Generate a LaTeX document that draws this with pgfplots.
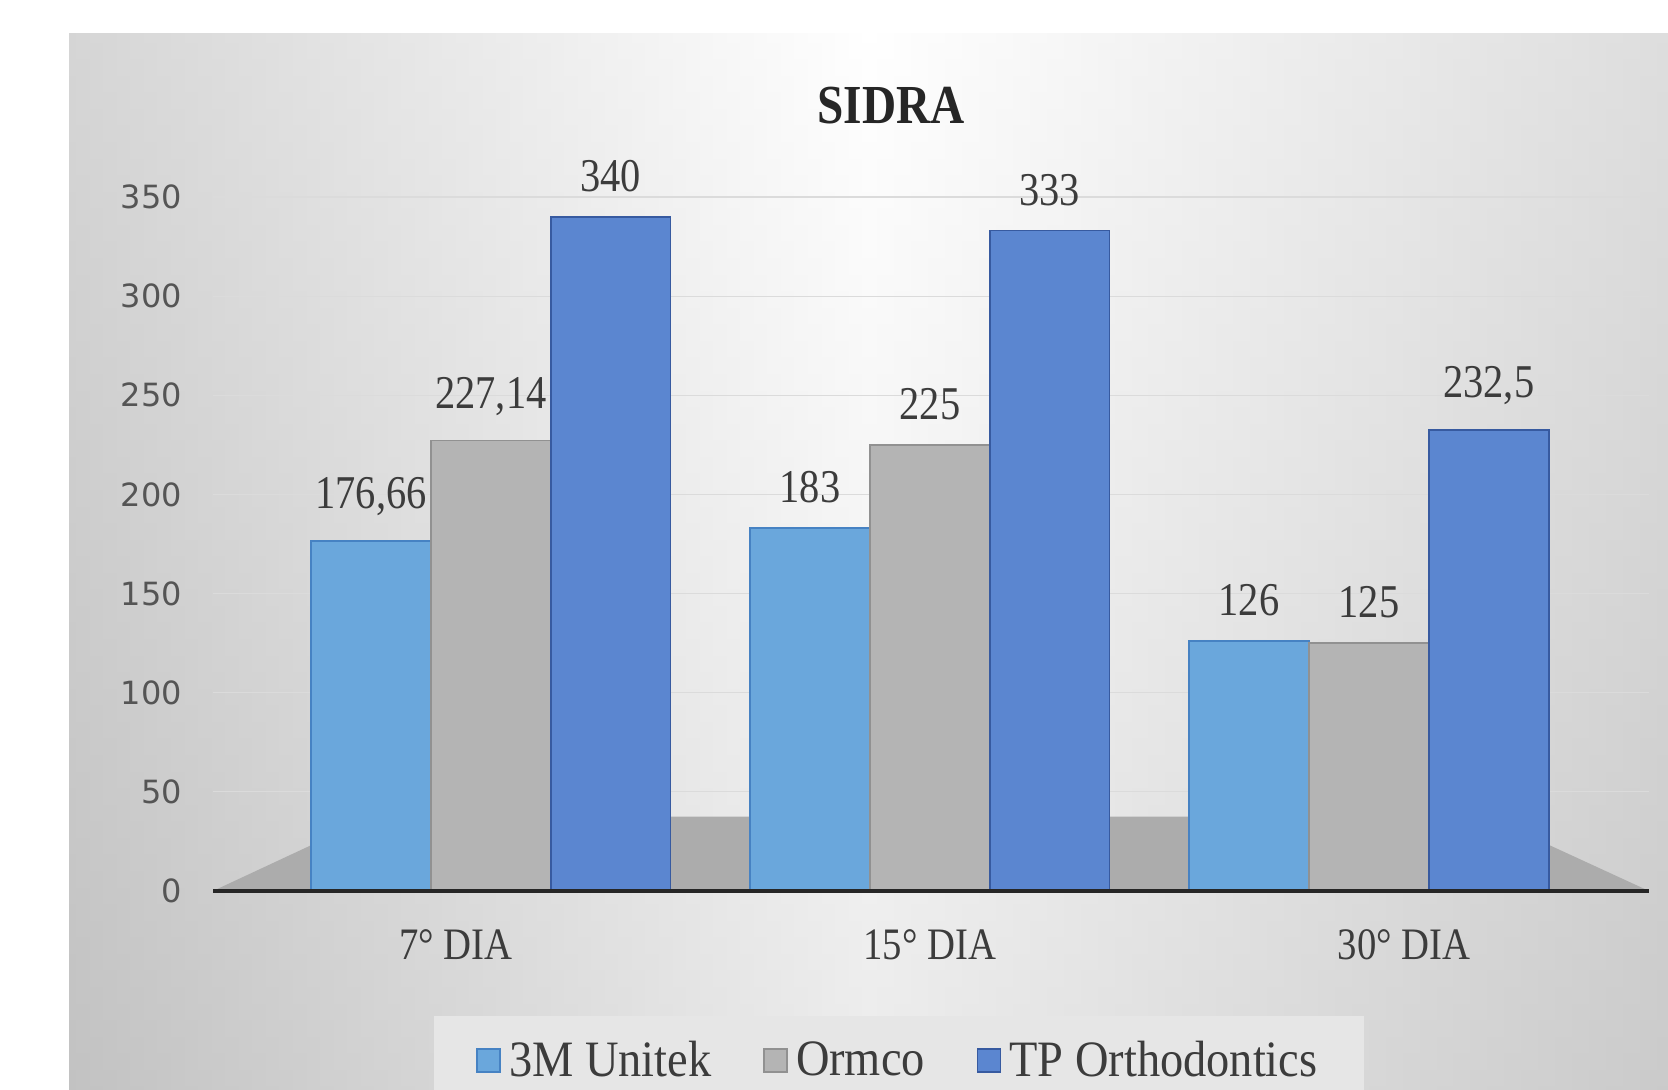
\documentclass[border=0pt]{standalone}
\usepackage{pgfplots}
\pgfplotsset{compat=1.18}
\usepackage{fontspec}
\setmainfont{Liberation Serif}
\newfontfamily\cserif{Liberation Serif}[FakeStretch=0.86]
\newfontfamily\lserif{Liberation Serif}[FakeStretch=0.91]
\newfontfamily\tickfont{DejaVu Sans}
\definecolor{bgedge}{RGB}{196,196,196}
\definecolor{cA}{RGB}{106,167,220}
\definecolor{cAd}{RGB}{70,130,195}
\definecolor{cB}{RGB}{180,180,180}
\definecolor{cBd}{RGB}{145,145,145}
\definecolor{cC}{RGB}{91,134,208}
\definecolor{cCd}{RGB}{55,90,160}
\definecolor{floorc}{RGB}{172,172,172}
\definecolor{txt}{RGB}{60,60,60}
\definecolor{ticktxt}{RGB}{85,85,85}
\definecolor{legendbg}{RGB}{230,230,230}
\begin{document}
\begin{tikzpicture}
\path[use as bounding box] (0,0) rectangle (834pt,545pt);
\fill[white] (0,0) rectangle (834pt,545pt);
\shade[left color=bgedge, right color=bgedge!80!white, middle color=white] (34.5pt,0) rectangle (834pt,528pt);
\shade[top color=white, bottom color=black!25, opacity=0.3] (34.5pt,0) rectangle (834pt,528pt);
\node[font=\cserif\bfseries\fontsize{27.5}{30}\selectfont, text=black!85] at (445.5pt,492pt) {SIDRA};
\begin{axis}[
  at={(106.5pt,99.5pt)}, anchor=south west,
  scale only axis, width=718pt, height=347pt,
  xmin=-0.633, xmax=2.638, ymin=0, ymax=350,
  ybar=0pt, bar width=0.273,
  ytick={0,50,...,350},
  xtick={-0.08,1,2.08}, xticklabels={7° DIA,15° DIA,30° DIA},
  major tick length=0pt,
  axis line style={draw=none},
  ymajorgrids, grid style={white!86!black, line width=0.6pt},
  yticklabel style={font=\tickfont\fontsize{16}{18}\selectfont, text=ticktxt, xshift=-12pt},
  xticklabel style={font=\cserif\fontsize{22.5}{24}\selectfont, text=txt, yshift=-16pt},
  /pgf/number format/assume math mode=true,
  /pgf/number format/use comma,
  nodes near coords,
  every node near coord/.append style={font=\cserif\fontsize{23.5}{25}\selectfont, text=txt, anchor=south, inner sep=0pt, yshift=12pt},
  clip=false,
  legend columns=3,
  legend style={at={(0.4777,-0.180)}, anchor=north, draw=none, fill=legendbg,
    font=\lserif\fontsize{25.5}{27}\selectfont, text=txt,
    inner xsep=21pt, inner ysep=10.5pt, nodes={inner xsep=2pt},
    /tikz/every even column/.append style={column sep=24pt}},
  legend image code/.code={\draw[#1] (0pt,-5.75pt) rectangle (11.5pt,5.75pt);\path (13.5pt,0pt);},
]
\fill[floorc] (axis cs:-0.633,0) -- (axis cs:2.638,0) -- (axis cs:2.27,37.5) -- (axis cs:-0.27,37.5) -- cycle;
\addplot[fill=cA, draw=cAd, line width=0.8pt] coordinates {(0,176.66) (1,183) (2,126)};
\addplot[fill=cB, draw=cBd, line width=0.8pt] coordinates {(0,227.14) (1,225) (2,125)};
\addplot[fill=cC, draw=cCd, line width=0.8pt] coordinates {(0,340) (1,333) (2,232.5)};
\legend{3M Unitek, Ormco, TP Orthodontics}
\draw[line width=2pt, black!85] (axis cs:-0.633,0) -- (axis cs:2.638,0);
\end{axis}
\end{tikzpicture}
\end{document}
